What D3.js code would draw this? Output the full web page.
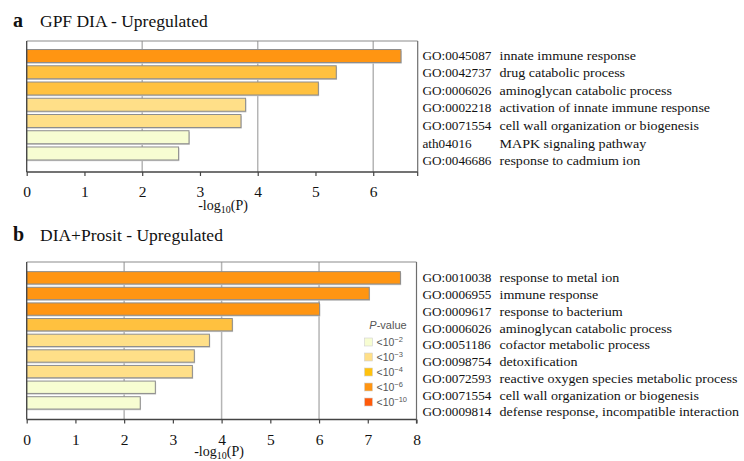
<!DOCTYPE html>
<html>
<head>
<meta charset="utf-8">
<script src="https://cdn.jsdelivr.net/npm/d3@7"></script>
<style>
  html, body { margin: 0; padding: 0; background: #fff; }
  svg { display: block; }
  .serif { font-family: "Liberation Serif", "Times New Roman", serif; }
</style>
</head>
<body>
<svg id="chart" width="744" height="461"></svg>
<script>
// ---------- Data ----------
const idsA = ["GO:0045087", "GO:0042737", "GO:0006026", "GO:0002218", "GO:0071554", "ath04016", "GO:0046686"];
const termsA = ["innate immune response", "drug catabolic process", "aminoglycan catabolic process",
  "activation of innate immune response", "cell wall organization or biogenesis",
  "MAPK signaling pathway", "response to cadmium ion"];
const valuesA = [6.48, 5.36, 5.05, 3.79, 3.71, 2.81, 2.63];

const idsB = ["GO:0010038", "GO:0006955", "GO:0009617", "GO:0006026", "GO:0051186", "GO:0098754",
  "GO:0072593", "GO:0071554", "GO:0009814"];
const termsB = ["response to metal ion", "immune response", "response to bacterium",
  "aminoglycan catabolic process", "cofactor metabolic process", "detoxification",
  "reactive oxygen species metabolic process", "cell wall organization or biogenesis",
  "defense response, incompatible interaction"];
const valuesB = [7.67, 7.03, 6.01, 4.22, 3.75, 3.44, 3.40, 2.64, 2.33];

const ticksA = [0, 1, 2, 3, 4, 5, 6];
const ticksB = [0, 1, 2, 3, 4, 5, 6, 7, 8];
const gridVals = [2, 4, 6];

const legendLabels = ["2", "3", "4", "6", "10"];       // <10^-n
const legendThresholds = [2, 3, 4, 6, 10];
const legendColors = ["#F7FDD2", "#FFDF88", "#FFC20E", "#FF9512", "#FF5A0A"];
const barColors = ["#F7FDD2", "#FFDF88", "#FFC13F", "#FF9512", "#FF5A0A"];

// ---------- Drawing ----------
const svg = d3.select("#chart");

function colorFor(v) {
  let idx = 0;
  legendThresholds.forEach((t, i) => { if (v >= t) idx = i; });
  return barColors[idx];
}

function panel(cfg) {
  const g = svg.append("g");
  const x = d3.scaleLinear().domain(cfg.xDomain).range([cfg.left, cfg.right]);
  const y = d3.scaleBand().domain(cfg.ids).range(cfg.barRange)
    .paddingInner(cfg.padIn).paddingOuter(cfg.padIn / 2);
  const yLab = d3.scalePoint().domain(cfg.ids).range(cfg.labRange);

  // panel letter + title
  g.append("text").attr("class", "serif")
    .attr("x", 13).attr("y", cfg.titleY)
    .attr("font-size", 20).attr("font-weight", "bold").attr("fill", "#111")
    .text(cfg.letter);
  g.append("text").attr("class", "serif")
    .attr("x", 40).attr("y", cfg.titleY)
    .attr("font-size", 17.5).attr("fill", "#111")
    .text(cfg.title);

  // grid lines
  g.selectAll(".grid").data(gridVals).join("line")
    .attr("x1", d => x(d)).attr("x2", d => x(d))
    .attr("y1", cfg.top).attr("y2", cfg.bottom)
    .attr("stroke", "#b5b5b5").attr("stroke-width", 1.5);

  // frame top + right
  g.append("line").attr("x1", cfg.left).attr("x2", cfg.right)
    .attr("y1", cfg.top).attr("y2", cfg.top)
    .attr("stroke", "#8c8c8c").attr("stroke-width", 1.2);
  g.append("line").attr("x1", cfg.right).attr("x2", cfg.right)
    .attr("y1", cfg.top).attr("y2", cfg.bottom)
    .attr("stroke", "#6e6e6e").attr("stroke-width", 1.2);

  // bars
  const data = cfg.ids.map((id, i) => ({ id, v: cfg.values[i] }));
  g.selectAll(".shadow").data(data).join("rect")
    .attr("x", x(0)).attr("y", d => y(d.id) + 1.2)
    .attr("width", d => x(d.v) - x(0) + 0.8).attr("height", y.bandwidth())
    .attr("fill", "#c8c8c8");
  g.selectAll(".bar").data(data).join("rect")
    .attr("x", x(0)).attr("y", d => y(d.id))
    .attr("width", d => x(d.v) - x(0)).attr("height", y.bandwidth())
    .attr("fill", d => colorFor(d.v))
    .attr("stroke", "#8d8d8d").attr("stroke-width", 1);

  // left axis line
  g.append("line").attr("x1", cfg.left).attr("x2", cfg.left)
    .attr("y1", cfg.top).attr("y2", cfg.bottom)
    .attr("stroke", "#444").attr("stroke-width", 1.3);

  // bottom axis
  const axis = d3.axisBottom(x).tickValues(cfg.ticks).tickSize(4).tickPadding(10)
    .tickFormat(d3.format("d"));
  const ax = g.append("g").attr("transform", `translate(0,${cfg.bottom})`).call(axis);
  ax.select(".domain").attr("stroke", "#444").attr("stroke-width", 1.3)
    .attr("d", `M${cfg.left},0H${cfg.right}`);
  ax.selectAll(".tick line").attr("stroke", "#444").attr("stroke-width", 1.2);
  ax.selectAll(".tick text").attr("class", "serif").attr("font-size", 15.5)
    .attr("fill", "#111");
  g.append("line").attr("x1", cfg.right).attr("x2", cfg.right)
    .attr("y1", cfg.bottom).attr("y2", cfg.bottom + 4)
    .attr("stroke", "#444").attr("stroke-width", 1.2);

  // axis title -log10(P)
  const t = g.append("text").attr("class", "serif")
    .attr("x", cfg.axisTitleX).attr("y", cfg.axisTitleY)
    .attr("text-anchor", "middle").attr("font-size", 14).attr("fill", "#111");
  t.append("tspan").text("-log");
  t.append("tspan").attr("font-size", 10).attr("dy", 2.5).text("10");
  t.append("tspan").attr("dy", -2.5).text("(P)");

  // row labels
  g.selectAll(".gid").data(cfg.ids).join("text").attr("class", "serif")
    .attr("x", 422.5).attr("y", d => yLab(d)).attr("dy", "0.35em")
    .attr("font-size", 13.2).attr("fill", "#111")
    .text(d => d);
  g.selectAll(".gterm").data(cfg.terms).join("text").attr("class", "serif")
    .attr("x", 499.5).attr("y", (d, i) => yLab(cfg.ids[i])).attr("dy", "0.35em")
    .attr("font-size", 13.2).attr("fill", "#111")
    .text(d => d)
    .each(function () {
      const w = this.getComputedTextLength();
      this.setAttribute("textLength", (w * 1.065).toFixed(1));
      this.setAttribute("lengthAdjust", "spacingAndGlyphs");
    });
  return { x, y };
}

panel({
  letter: "a", title: "GPF DIA - Upregulated", titleY: 27,
  ids: idsA, terms: termsA, values: valuesA, ticks: ticksA,
  xDomain: [0, 6.77], left: 26.7, right: 417.7,
  top: 41, bottom: 172, barRange: [47.9, 161.6], padIn: 0.2,
  labRange: [55, 160.5], axisTitleX: 223, axisTitleY: 210
});

panel({
  letter: "b", title: "DIA+Prosit - Upregulated", titleY: 241,
  ids: idsB, terms: termsB, values: valuesB, ticks: ticksB,
  xDomain: [0, 8], left: 26.7, right: 416.5,
  top: 262, bottom: 419.5, barRange: [270, 410.7], padIn: 0.21,
  labRange: [277.7, 411.7], axisTitleX: 219, axisTitleY: 456
});

// ---------- Legend ----------
const lg = svg.append("g");
const ly = d3.scalePoint().domain(legendLabels).range([342, 402]);
const lt = lg.append("text").attr("x", 388).attr("y", 329)
  .attr("text-anchor", "middle").attr("font-family", "Liberation Sans, Arial, sans-serif")
  .attr("font-size", 11).attr("fill", "#555");
lt.append("tspan").attr("font-style", "italic").text("P");
lt.append("tspan").text("-value");
lg.selectAll("rect").data(legendLabels).join("rect")
  .attr("x", 364.5).attr("y", d => ly(d) - 4).attr("width", 8).attr("height", 8)
  .attr("fill", (d, i) => legendColors[i]).attr("stroke", "#d0d0d0").attr("stroke-width", 0.6);
const ltx = lg.selectAll(".lt").data(legendLabels).join("text")
  .attr("x", 376.5).attr("y", d => ly(d)).attr("dy", "0.38em")
  .attr("font-family", "Liberation Sans, Arial, sans-serif")
  .attr("font-size", 10.5).attr("fill", "#555");
ltx.append("tspan").text("<10");
ltx.append("tspan").attr("dy", -4).attr("font-size", 7.5).text(d => "\u2212" + d);
</script>
</body>
</html>
